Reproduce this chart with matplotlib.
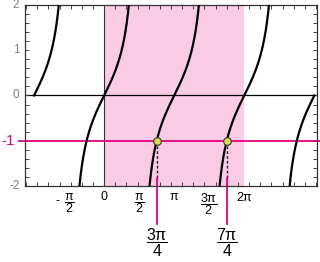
import numpy as np
import matplotlib
matplotlib.use("Agg")
import matplotlib.pyplot as plt
from matplotlib.transforms import blended_transform_factory

plt.rcParams['font.family'] = ['Liberation Sans', 'DejaVu Sans']
plt.rcParams['mathtext.fontset'] = 'custom'
plt.rcParams['mathtext.rm'] = 'Liberation Sans'
plt.rcParams['mathtext.it'] = 'Liberation Sans'

# branches of y = tan(x): (start, end) of each drawn piece
branches = [(-np.pi, -np.pi / 2), (-np.pi / 2, np.pi / 2), (np.pi / 2, 3 * np.pi / 2),
            (3 * np.pi / 2, 5 * np.pi / 2), (5 * np.pi / 2, 3 * np.pi)]
shade = (0, 2 * np.pi)
level = -1
sol_x = [3 * np.pi / 4, 7 * np.pi / 4]
sol_labels = [r'$\dfrac{3\pi}{4}$', r'$\dfrac{7\pi}{4}$']
xtick_pos = [-np.pi / 2, 0, np.pi / 2, np.pi, 3 * np.pi / 2, 2 * np.pi]
xtick_labels = [r'$\dfrac{\pi}{2}$', '0', r'$\dfrac{\pi}{2}$', r'$\pi$', r'$\dfrac{3\pi}{2}$', r'$2\pi$']
ytick_pos = [-2, 0, 1, 2]

pink = '#f9cbe5'
magenta = '#e5007f'
grey = '#7f7f7f'

fig = plt.figure(figsize=(3.2, 2.62), dpi=100)
ax = fig.add_axes([0.078, 0.29, 0.913, 0.691])
ax.set_xlim(-3.55, 9.55)
ax.set_ylim(-2, 2)

ax.axvspan(*shade, color=pink, lw=0, zorder=0)
ax.axhline(0, color='black', lw=0.9, zorder=1)
ax.axvline(0, color='#333333', lw=0.8, zorder=1)

for a, b in branches:
    xs = np.linspace(a + 1e-3, b - 1e-3, 400)
    ys = np.tan(xs)
    ok = np.abs(ys) <= 2.05
    ax.plot(xs[ok], ys[ok], color='black', lw=1.6, zorder=3)

# horizontal line y = -1
ax.plot([-3.8, 9.8], [level, level], color=magenta, lw=1.3, clip_on=False, zorder=2)
ax.text(-4.0, level, '-1', color=magenta, fontsize=11, ha='right', va='center')

for xv, lab in zip(sol_x, sol_labels):
    ax.plot([xv, xv], [level, -1.82], color='#222222', lw=1.0, ls=(0, (2, 1.5)), zorder=2)
    ax.plot([xv, xv], [-1.82, -2.83], color=magenta, lw=1.3, clip_on=False, zorder=2)
    ax.text(xv, -2.88, lab, fontsize=11.5, ha='center', va='top')
    ax.plot(xv, level, 'o', ms=5.5, mfc='#d3dc4e', mec='#333333', mew=0.8, zorder=4)

# ticks
ax.set_xticks(np.arange(-3.5, 9.6, 0.5))
ax.set_yticks(np.arange(-2, 2.01, 0.2))
ax.tick_params(direction='in', length=3, width=0.7, top=True, right=True,
               labelbottom=False, labelleft=False, color='#444444')
for s in ax.spines.values():
    s.set_linewidth(0.9)
    s.set_color('#333333')

tr = blended_transform_factory(ax.transData, ax.transAxes)
for xv, lab in zip(xtick_pos, xtick_labels):
    ax.text(xv, -0.03, lab, fontsize=9, ha='center', va='top', transform=tr)
ax.text(-np.pi / 2 - 0.5, -0.085, '-', fontsize=9, ha='center', va='center', transform=tr)

for yv in ytick_pos:
    ax.text(-3.8, yv, str(yv), color=grey, fontsize=8.5, ha='right', va='center')

fig.savefig('out.png', dpi=100)
